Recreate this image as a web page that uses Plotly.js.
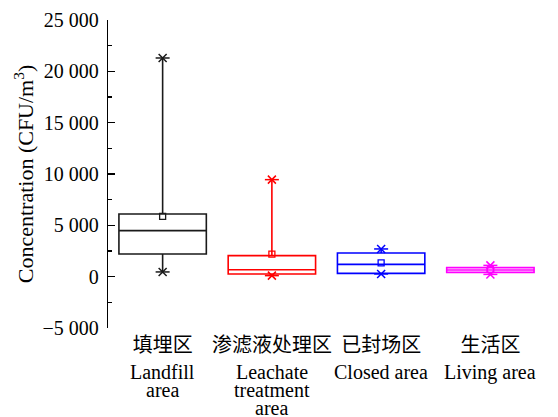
<!DOCTYPE html>
<html>
<head>
<meta charset="utf-8">
<script src="https://cdn.plot.ly/plotly-3.0.1.min.js"></script>
<style>html,body{margin:0;padding:0;background:#fff;}#chart{width:558px;height:417px;}</style>
</head>
<body>
<div id="chart"></div>
<script>
// ---- data ----
const categoriesZh = ["填埋区", "渗滤液处理区", "已封场区", "生活区"];
const categoriesEn = [["Landfill", "area"], ["Leachate", "treatment", "area"], ["Closed area"], ["Living area"]];
const q1Values     = [2210, 265, 320, 420];
const medianValues = [4480, 680, 1200, 650];
const q3Values     = [6110, 2050, 2310, 880];
const minValues    = [460, 100, 265, 220];
const maxValues    = [21300, 9450, 2700, 1100];
const meanValues   = [5880, 2190, 1340, 680];
const colors       = ["#1a1a1a", "#ff0000", "#0000ff", "#ff00ff"];
const yTickVals    = [-5000, 0, 5000, 10000, 15000, 20000, 25000];

const serif = "Liberation Serif, Times New Roman, Noto Sans CJK SC, serif";
const traces = [];
categoriesZh.forEach((c, i) => {
  traces.push({
    type: "box", name: c, x: [i],
    q1: [q1Values[i]], median: [medianValues[i]], q3: [q3Values[i]],
    lowerfence: [minValues[i]], upperfence: [maxValues[i]],
    width: 0.8, whiskerwidth: 0, boxpoints: false,
    line: {color: colors[i], width: 1.6},
    fillcolor: "rgba(255,255,255,0)",
    hoverinfo: "skip", showlegend: false
  });
  // min / max asterisk markers (x + horizontal bar)
  ["x-thin-open", "line-ew-open"].forEach(sym => {
    traces.push({
      type: "scatter", mode: "markers", x: [i, i], y: [minValues[i], maxValues[i]],
      marker: {symbol: sym, size: sym === "x-thin-open" ? 8 : 10, color: colors[i],
               line: {color: colors[i], width: 1.5}},
      hoverinfo: "skip", showlegend: false
    });
  });
  // mean marker
  traces.push({
    type: "scatter", mode: "markers", x: [i], y: [meanValues[i]],
    marker: {symbol: "square-open", size: 6, color: colors[i], line: {color: colors[i], width: 1.3}},
    hoverinfo: "skip", showlegend: false
  });
});

const annotations = [];
const lineShifts = [-44, -62, -80];
categoriesEn.forEach((lines, i) => {
  lines.forEach((t, k) => {
    annotations.push({
      xref: "x", yref: "paper", x: i, y: 0, yanchor: "middle", xanchor: "center",
      yshift: lineShifts[k], text: t, showarrow: false, borderpad: 0,
      font: {family: serif, size: 20, color: "#000"}
    });
  });
});

const layout = {
  width: 558, height: 417,
  margin: {l: 108, r: 13, t: 20, b: 89},
  paper_bgcolor: "#fff", plot_bgcolor: "#fff",
  separators: ". ",
  showlegend: false,
  font: {family: serif, color: "#000"},
  xaxis: {
    range: [-0.5, 3.5], tickvals: categoriesZh.map((c, i) => i), ticktext: categoriesZh,
    showgrid: false, zeroline: false, showline: false, ticks: "",
    tickfont: {family: "Noto Sans CJK SC, sans-serif", size: 20, color: "#000"},
    ticklabelstandoff: 3
  },
  yaxis: {
    range: [-5000, 25000], tickvals: yTickVals, tickformat: ",d", separatethousands: true,
    showgrid: false, zeroline: false, showline: true, linecolor: "#000", linewidth: 1.3,
    ticks: "inside", ticklen: 7, tickwidth: 1.3, tickcolor: "#000",
    minor: {dtick: 2500, ticks: "inside", ticklen: 4, tickwidth: 1.3, tickcolor: "#000"},
    tickfont: {family: serif, size: 20, color: "#000"},
    ticklabelstandoff: 4,
    title: {text: "Concentration (CFU/m<sup>3</sup>)", font: {family: serif, size: 22, color: "#000"}, standoff: 2}
  },
  annotations: annotations
};

Plotly.newPlot("chart", traces, layout, {staticPlot: true, displayModeBar: false});
</script>
</body>
</html>
